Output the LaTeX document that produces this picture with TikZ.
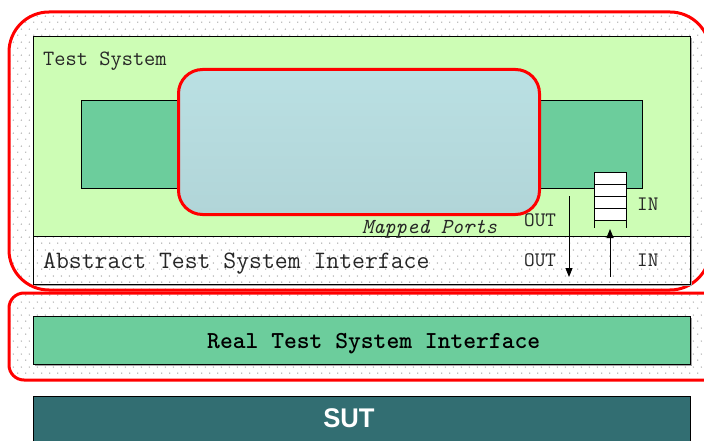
\documentclass[tikz,border=0pt]{standalone}
\usepackage{fontspec}
\setmainfont{Liberation Serif}
\setsansfont{Liberation Sans}
\newfontfamily\boldmono{lmmonolt10-bold.otf}
\usetikzlibrary{patterns,arrows.meta}

\definecolor{tsgreen}{RGB}{205,253,181}
\definecolor{portgreen}{RGB}{108,205,156}
\definecolor{coretop}{RGB}{186,224,227}
\definecolor{corebot}{RGB}{177,213,216}
\definecolor{sutteal}{RGB}{50,110,114}
\definecolor{dotgrey}{RGB}{170,170,170}
\definecolor{frame}{RGB}{255,0,0}

% staggered dot texture: 8pt across, rows offset by half a step
\pgfdeclarepatternformonly{stagdots}{\pgfpointorigin}{\pgfqpoint{8pt}{13pt}}{\pgfqpoint{8pt}{13pt}}{%
  \pgfpathcircle{\pgfqpoint{2pt}{3pt}}{0.8pt}%
  \pgfpathcircle{\pgfqpoint{6pt}{9.5pt}}{0.8pt}%
  \pgfusepath{fill}}

\tikzset{
  x=1pt, y=-1pt,
  zone/.style={draw=frame, line width=3pt, pattern=stagdots, pattern color=dotgrey},
  plainbox/.style={draw=black, line width=0.8pt},
  shadowbox/.style={fill=black!35},
  monotext/.style={inner sep=0pt, anchor=base west, font=\ttfamily\fontsize{21.8}{23}\selectfont, text=black!85},
  smallmono/.style={monotext, font=\ttfamily\fontsize{20.6}{22}\selectfont},
  bigmono/.style={inner sep=0pt, anchor=base west, font=\ttfamily\fontsize{25}{27}\selectfont, text=black!85},
  flow/.style={draw=black, line width=0.9pt, -{Triangle[length=9pt,width=7pt]}},
  queueline/.style={draw=black, line width=0.8pt},
}

\begin{document}
\begin{tikzpicture}
\useasboundingbox (0,0) rectangle (704,441);
\fill[white] (0,0) rectangle (704,441);

% dotted outer zones
\draw[zone, rounded corners=40pt] (9,12) rectangle (710,290);
\draw[zone, rounded corners=15pt] (9,293) rectangle (726,380);

% test system area with its abstract interface band
\fill[shadowbox] (35,38) rectangle (692,286);
\fill[white] (33,236) rectangle (690,284);
\fill[zone, draw=none] (33,236) rectangle (690,284);
\node[plainbox, fill=tsgreen, minimum width=657pt, minimum height=200pt, anchor=north west, inner sep=0pt] (ts) at (33,36) {};
\node[plainbox, minimum width=657pt, minimum height=48pt, anchor=north west, inner sep=0pt] (atsi) at (33,236) {};

% port strip and the mapped core
\node[plainbox, fill=portgreen, minimum width=561pt, minimum height=88pt, anchor=north west, inner sep=0pt] (ports) at (81,100) {};
\node[draw=frame, line width=3pt, rounded corners=24pt, top color=coretop, bottom color=corebot,
      minimum width=361pt, minimum height=145pt, anchor=north west, inner sep=0pt] (core) at (177,68) {};

% input queue
\fill[white] (594,172) rectangle (626,220);
\node[inner sep=0pt, minimum width=32pt, minimum height=56pt, anchor=north west] (queue) at (594,172) {};
\draw[queueline] (594,228) -- (594,172) -- (626,172) -- (626,228);
\foreach \yy in {184,196,208,220} \draw[queueline] (594,\yy) -- (626,\yy);

% port flows
\coordinate (outsrc) at (569,196);
\coordinate (outdst) at (569,277);
\coordinate (insrc) at (610,277);
\coordinate (indst) at (610,229);
\draw[flow] (outsrc) -- (outdst);
\draw[flow] (insrc) -- (indst);

% labels
\node[monotext] (tslabel) at (43,66) {Test System};
\node[monotext, font=\ttfamily\itshape\fontsize{21.4}{23}\selectfont] (mapped) at (362,233) {Mapped Ports};
\node[smallmono] (out1) at (524,226) {OUT};
\node[smallmono] (in1) at (637,210) {IN};
\node[smallmono] (out2) at (524,266) {OUT};
\node[smallmono] (in2) at (637,266) {IN};
\node[bigmono] (atsilabel) at (43,268.5) {Abstract Test System Interface};

% real interface
\fill[shadowbox] (35,318) rectangle (692,366);
\node[plainbox, fill=portgreen, minimum width=657pt, minimum height=48pt, anchor=north west, inner sep=0pt] (rtsi) at (33,316) {};
\node[bigmono, font=\boldmono\fontsize{24.4}{26}\selectfont, text=black] (rtsilabel) at (207,348.5) {Real Test System Interface};

% system under test
\node[plainbox, fill=sutteal, minimum width=657pt, minimum height=60pt, anchor=north west, inner sep=0pt] (sut) at (33,396) {};
\node[inner sep=0pt, anchor=base, text=white, font=\sffamily\bfseries\fontsize{27}{30}\selectfont] (sutlabel) at (349,427) {\scalebox{0.95}[1]{SUT}};
\end{tikzpicture}
\end{document}
